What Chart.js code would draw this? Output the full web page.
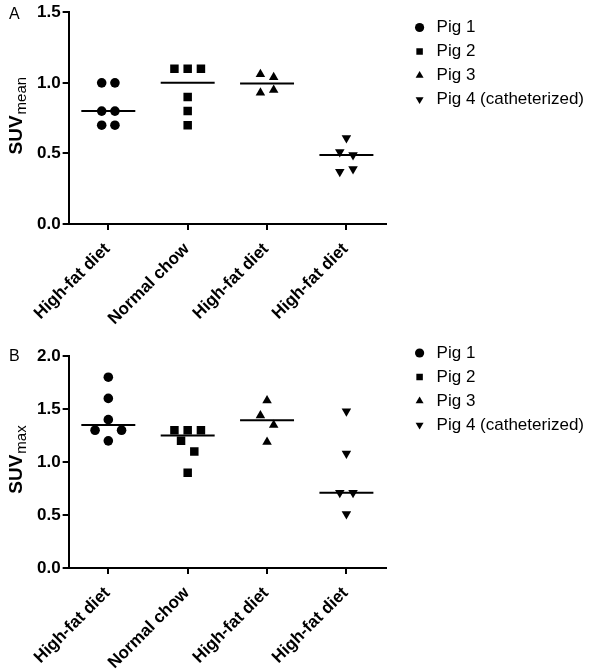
<!DOCTYPE html>
<html>
<head>
<meta charset="utf-8">
<title>SUV by pig</title>
<script src="https://cdn.jsdelivr.net/npm/chart.js@4.4.0/dist/chart.umd.min.js"></script>
<style>
    html, body { margin: 0; padding: 0; background: #fff; overflow: hidden; }
    body { position: relative; width: 600px; height: 670px; }
    .panel { position: absolute; left: 0; width: 600px; }
    #panel-a { top: 0; height: 340px; }
    #panel-b { top: 333px; height: 349px; }
</style>
</head>
<body>
<div class="panel" id="panel-a"><canvas id="chart-mean"></canvas></div>
<div class="panel" id="panel-b"><canvas id="chart-max"></canvas></div>
<script>
// --- data ---
const categories = ['High-fat diet', 'Normal chow', 'High-fat diet', 'High-fat diet'];
const pigLabels = ['Pig 1', 'Pig 2', 'Pig 3', 'Pig 4 (catheterized)'];
const yTicksMean = [0, 0.5, 1.0, 1.5];
const yTicksMax = [0, 0.5, 1.0, 1.5, 2.0];

// panel A: SUVmean
const meanPig1 = [1.0, 1.0, 0.8, 0.8, 0.7, 0.7];
const meanPig2 = [1.1, 1.1, 1.1, 0.9, 0.8, 0.7];
const meanPig3 = [1.06, 1.04, 0.93, 0.95];
const meanPig4 = [0.61, 0.51, 0.49, 0.37, 0.39];
// column slot of each point (-1 left, 0 centre, 1 right)
const meanSlots1 = [-0.5, 0.5, -0.5, 0.5, -0.5, 0.5];
const meanSlots2 = [-1, 0, 1, 0, 0, 0];
const meanSlots3 = [-0.5, 0.5, -0.5, 0.5];
const meanSlots4 = [0, -0.5, 0.5, -0.5, 0.5];

// panel B: SUVmax
const maxPig1 = [1.8, 1.6, 1.4, 1.3, 1.3, 1.2];
const maxPig2 = [1.3, 1.3, 1.3, 1.2, 1.1, 0.9];
const maxPig3 = [1.58, 1.44, 1.35, 1.19];
const maxPig4 = [1.48, 1.08, 0.71, 0.71, 0.51];
const maxSlots1 = [0, 0, 0, -1, 1, 0];
const maxSlots2 = [-1, 0, 1, -0.5, 0.5, 0];
const maxSlots3 = [0, -0.5, 0.5, 0];
const maxSlots4 = [0, 0, -0.5, 0.5, 0];

const FONT = '"Liberation Sans", Arial, sans-serif';
const SLOT = 0.167;      // one marker width, in category units
const HALF_LINE = 0.34;  // half length of the median bar

const markerStyles = ['circle', 'rect', 'triangle', 'triangle'];
const markerRotation = [0, 0, 0, 180];
const markerRadius = [4.8, 6, 5.5, 5.5];

const median = (arr) => {
    const s = [...arr].sort((a, b) => a - b);
    const m = Math.floor(s.length / 2);
    return s.length % 2 ? s[m] : (s[m - 1] + s[m]) / 2;
};

const buildDatasets = (groups, slots) => {
    const sets = groups.map((values, i) => ({
        label: pigLabels[i],
        data: values.map((v, k) => ({ x: i + slots[i][k] * SLOT, y: v })),
        pointStyle: markerStyles[i],
        pointRotation: markerRotation[i],
        pointRadius: markerRadius[i],
        pointHoverRadius: markerRadius[i],
        pointBackgroundColor: '#000',
        pointBorderColor: '#000',
        pointBorderWidth: 0,
        backgroundColor: '#000',
        borderColor: '#000'
    }));
    // median bars
    groups.forEach((values, i) => {
        const m = median(values);
        sets.push({
            label: 'median',
            data: [{ x: i - HALF_LINE, y: m }, { x: i + HALF_LINE, y: m }],
            showLine: true,
            borderColor: '#000',
            borderWidth: 2,
            pointRadius: 0
        });
    });
    return sets;
};

// y title with subscript + panel letter
const axisTitle = {
    id: 'axisTitle',
    afterDraw(chart, args, opts) {
        const { ctx, chartArea } = chart;
        ctx.save();
        ctx.fillStyle = '#000';
        ctx.textBaseline = 'alphabetic';
        ctx.font = `16px ${FONT}`;
        ctx.fillText(opts.letter, 9, opts.letterY);

        const cy = (chartArea.top + chartArea.bottom) / 2 - 2;
        ctx.translate(22, cy);
        ctx.rotate(-Math.PI / 2);
        ctx.font = `bold 19px ${FONT}`;
        const w1 = ctx.measureText(opts.main).width;
        ctx.font = `15px ${FONT}`;
        const w2 = ctx.measureText(opts.sub).width;
        const start = -(w1 + w2) / 2;
        ctx.font = `bold 19px ${FONT}`;
        ctx.fillText(opts.main, start, 0);
        ctx.font = `15px ${FONT}`;
        ctx.fillText(opts.sub, start + w1 + 1, 4);
        ctx.restore();
    }
};

const makeChart = (canvasId, groups, slots, yMax, yTicks, title, padding, topGap) => {
    const ctx = document.getElementById(canvasId).getContext('2d');
    return new Chart(ctx, {
        type: 'scatter',
        data: { datasets: buildDatasets(groups, slots) },
        plugins: [axisTitle],
        options: {
            responsive: true,
            maintainAspectRatio: false,
            animation: false,
            layout: { padding: padding },
            scales: {
                x: {
                    type: 'linear',
                    min: -0.5,
                    max: 3.5,
                    afterBuildTicks: (scale) => {
                        scale.ticks = categories.map((c, i) => ({ value: i }));
                    },
                    ticks: {
                        callback: (v) => categories[v],
                        autoSkip: false,
                        minRotation: 45,
                        maxRotation: 45,
                        padding: 9,
                        labelOffset: -1,
                        color: '#000',
                        font: { family: FONT, size: 17, weight: 'bold' }
                    },
                    grid: { drawOnChartArea: false, color: '#000', lineWidth: 2, tickLength: 6 },
                    border: { color: '#000', width: 2 }
                },
                y: {
                    min: 0,
                    max: yMax,
                    afterBuildTicks: (scale) => {
                        scale.ticks = yTicks.map(v => ({ value: v }));
                    },
                    ticks: {
                        callback: (v) => v.toFixed(1),
                        padding: 2,
                        color: '#000',
                        font: { family: FONT, size: 17, weight: 'bold' }
                    },
                    grid: { drawOnChartArea: false, color: '#000', lineWidth: 2, tickLength: 6 },
                    border: { color: '#000', width: 2 }
                },
                // spacer between plot and legend
                gap: {
                    position: 'right',
                    display: true,
                    afterFit: (scale) => { scale.width = 18; },
                    ticks: { display: false },
                    grid: { display: false },
                    border: { display: false }
                },
                // spacer above the plot (legend keeps its own top)
                gapTop: {
                    position: 'top',
                    display: topGap > 0,
                    afterFit: (scale) => { scale.height = topGap; },
                    ticks: { display: false },
                    grid: { display: false },
                    border: { display: false }
                }
            },
            plugins: {
                axisTitle: title,
                tooltip: { enabled: false },
                legend: {
                    position: 'right',
                    align: 'start',
                    maxWidth: 260,
                    labels: {
                        usePointStyle: true,
                        boxWidth: 17,
                        boxHeight: 6.5,
                        padding: 7,
                        color: '#000',
                        font: { family: FONT, size: 17 },
                        filter: (item) => item.datasetIndex < 4
                    }
                }
            }
        }
    });
};

makeChart('chart-mean',
    [meanPig1, meanPig2, meanPig3, meanPig4],
    [meanSlots1, meanSlots2, meanSlots3, meanSlots4],
    1.5, yTicksMean,
    { letter: 'A', letterY: 19, main: 'SUV', sub: 'mean' },
    { left: 35, top: 12, right: 6, bottom: 2 }, 0);

makeChart('chart-max',
    [maxPig1, maxPig2, maxPig3, maxPig4],
    [maxSlots1, maxSlots2, maxSlots3, maxSlots4],
    2.0, yTicksMax,
    { letter: 'B', letterY: 28, main: 'SUV', sub: 'max' },
    { left: 35, top: 4.5, right: 6, bottom: 0 }, 18.5);
</script>
</body>
</html>
